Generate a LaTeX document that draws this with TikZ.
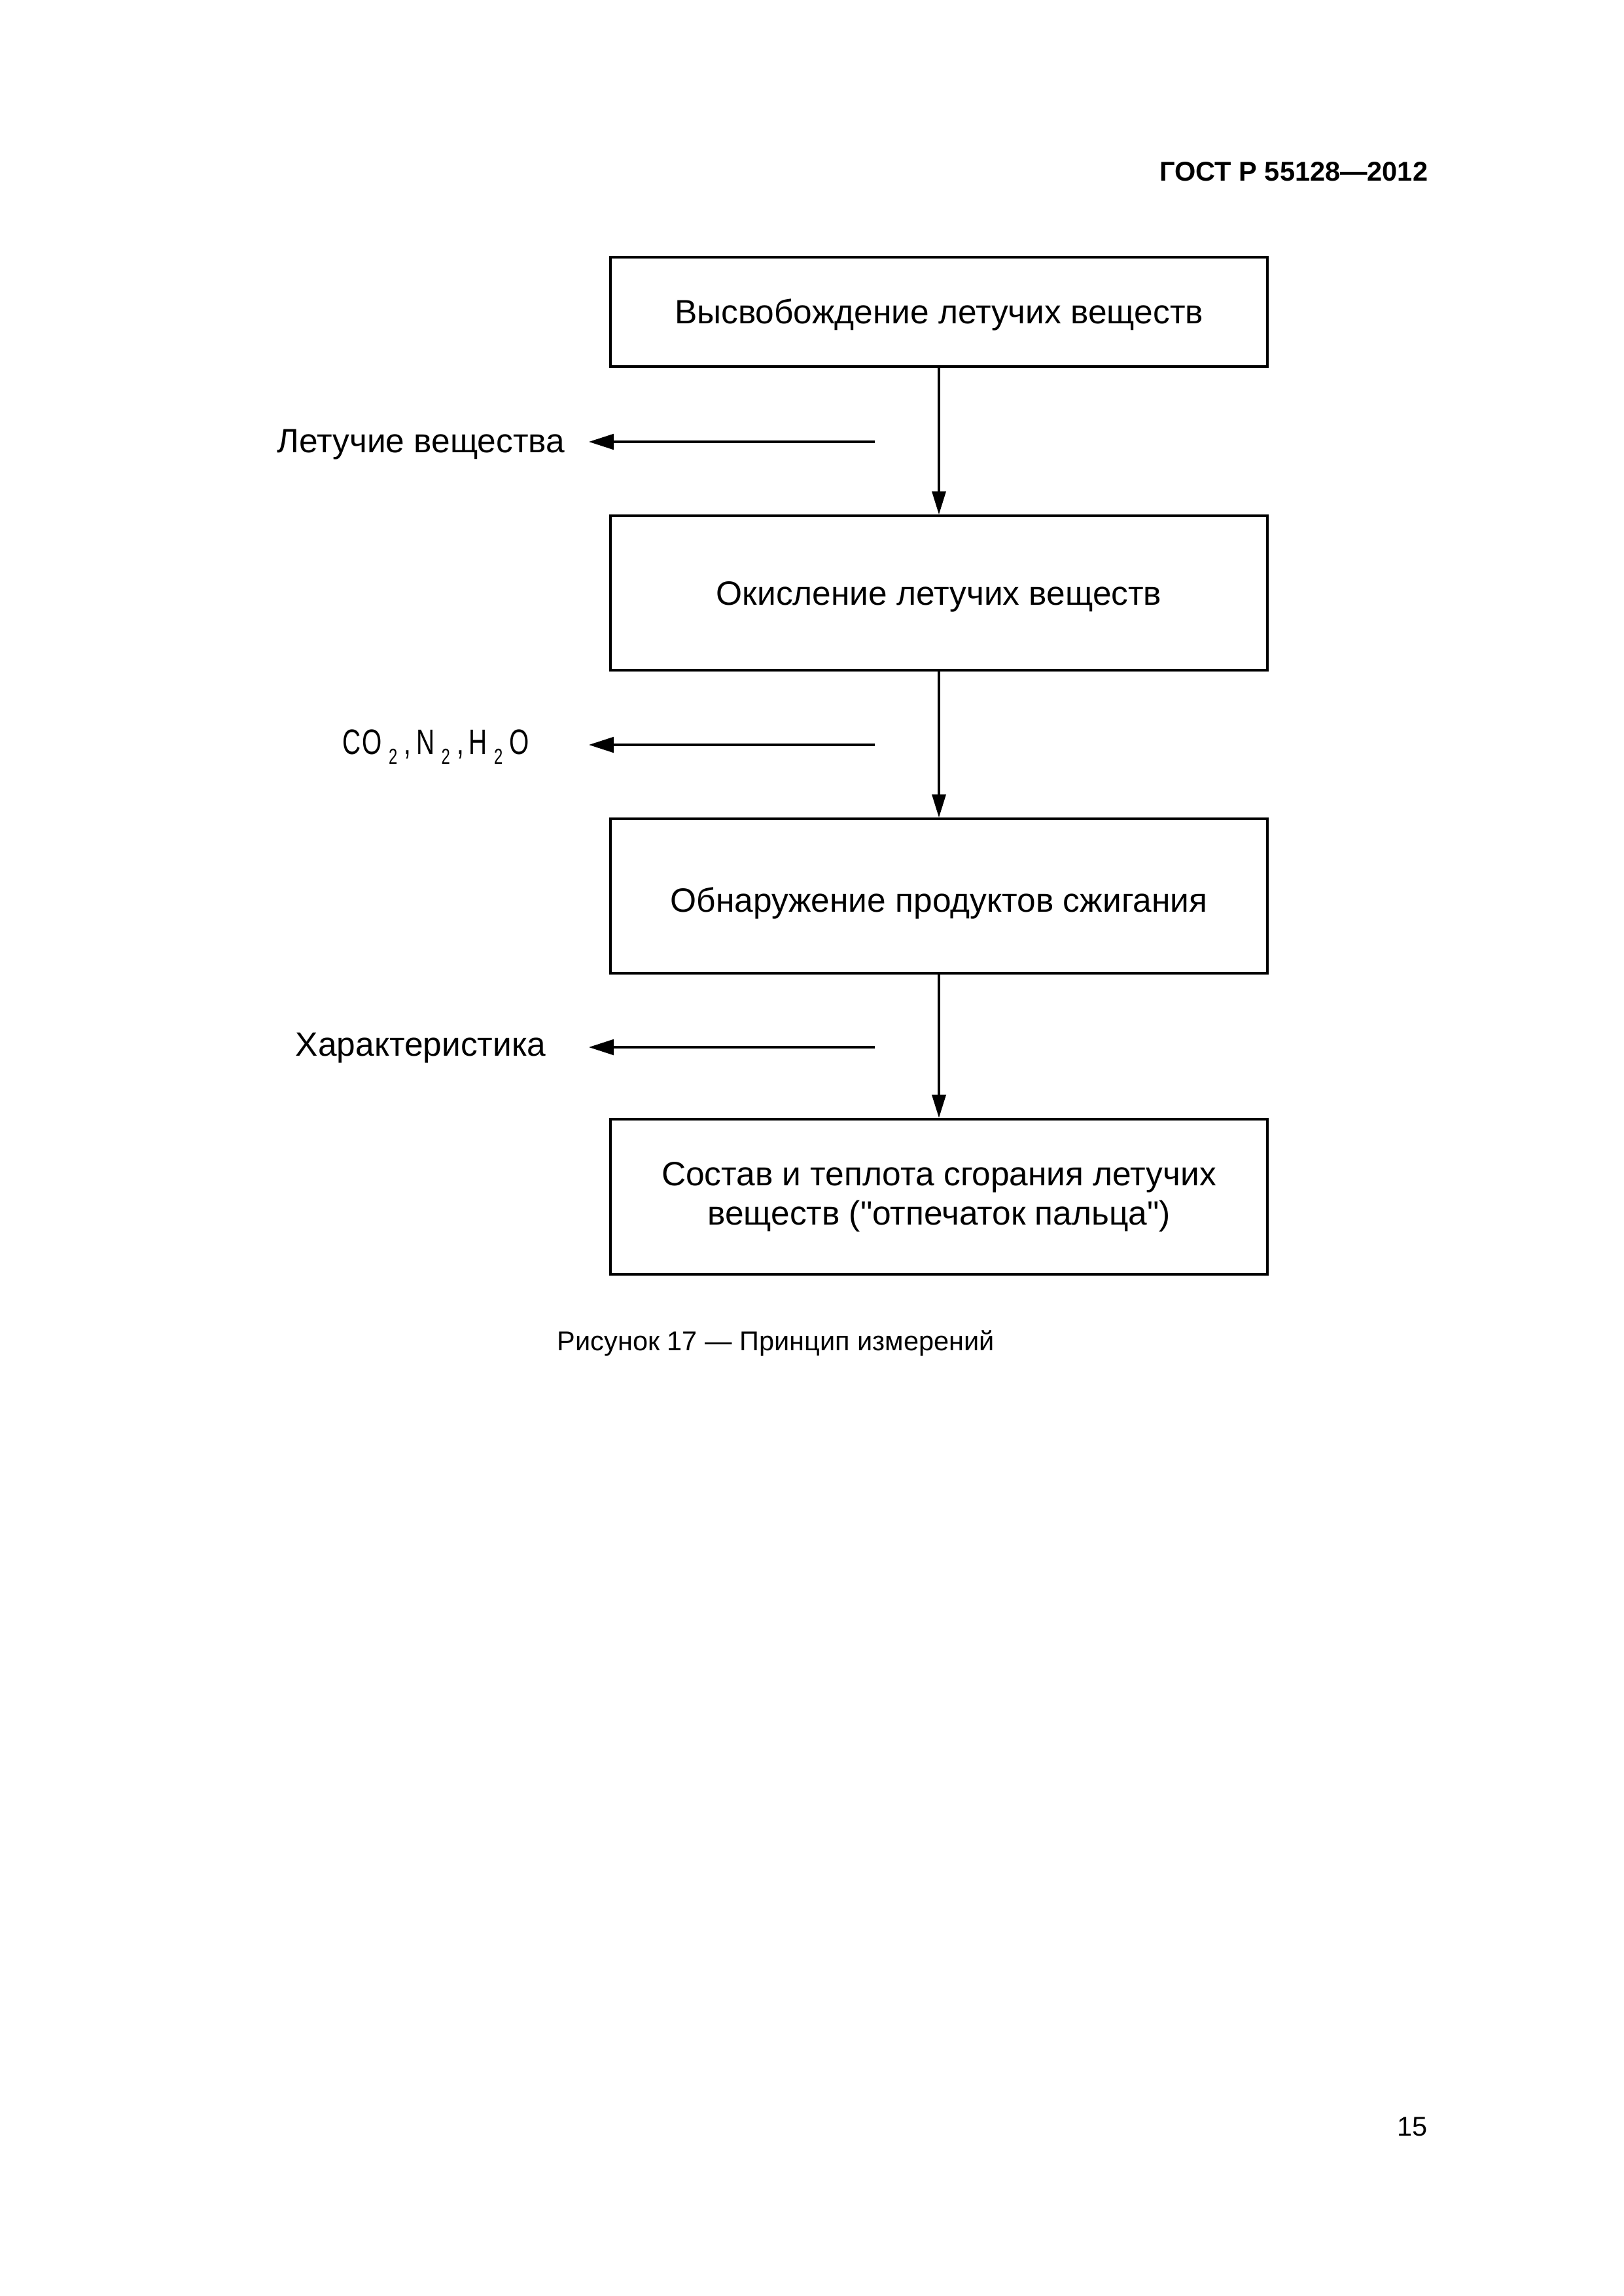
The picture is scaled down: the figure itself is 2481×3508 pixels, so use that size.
\documentclass[tikz,border=0pt]{standalone}
\usepackage{fontspec}
\usepackage{graphicx}
\setmainfont{Liberation Sans}
\newfontfamily\plainfont{Liberation Sans}
\usetikzlibrary{arrows.meta}
\newcommand\lowtwo{\raisebox{-3.8pt}{\fontsize{8}{8}\selectfont 2}}
\newcommand\sq{{\plainfont\symbol{"22}}}
\begin{document}
\begin{tikzpicture}[x=0.0084667cm,y=-0.0084667cm,
  box/.style={draw, line width=1pt, minimum width=85mm, inner sep=0pt, align=center,
    font=\fontsize{12.4}{14.4}\selectfont},
  one/.style={text height=8.9pt, text depth=0pt},
  lbl/.style={inner sep=0pt, font=\fontsize{12.4}{14.4}\selectfont},
  flow/.style={line width=0.75pt, -{Triangle[length=3mm,width=1.8mm]}},
  side/.style={line width=0.75pt, -{Triangle[length=3.2mm,width=2mm]}}]
\fill[white] (0,0) rectangle (2481,3508);
\useasboundingbox (0,0) rectangle (2481,3508);
% header and page number
\node[inner sep=0pt, anchor=base east, font=\fontsize{10}{12}\selectfont\bfseries] (hdr) at (2183,276) {ГОСТ Р 55128—2012};
\node[inner sep=0pt, anchor=base east, font=\fontsize{10}{12}\selectfont] (pg) at (2182,3263) {15};
% boxes
\node[box, one, minimum height=14.14mm] (b1) at (1435,476.5) {Высвобождение летучих веществ};
\node[box, one, minimum height=19.98mm] (b2) at (1435,906) {Окисление летучих веществ};
\node[box, one, text height=12pt, minimum height=19.98mm] (b3) at (1435,1369) {Обнаружение продуктов сжигания};
\node[box, minimum height=20.07mm] (b4) at (1435,1828.5) {Состав и теплота сгорания летучих\\веществ (\sq отпечаток пальца\sq)};
% flow arrows
\draw[flow] (b1.south) -- (b2.north);
\draw[flow] (b2.south) -- (b3.north);
\draw[flow] (b3.south) -- (b4.north);
% side outputs
\coordinate (s1) at (1337,675);
\coordinate (t1) at (900,675);
\draw[side] (s1) -- (t1);
\node[lbl, anchor=base east] (l1) at (864,691) {Летучие вещества};
\coordinate (s2) at (1337,1138);
\coordinate (t2) at (900,1138);
\draw[side] (s2) -- (t2);
\node[inner sep=0pt, anchor=base west, font=\fontsize{13}{13}\selectfont] (l2) at (523,1152)
  {\scalebox{0.72}[1]{C\kern0.5pt O\kern3.5pt\lowtwo\kern3.5pt,\kern2.5pt N\kern3.5pt\lowtwo\kern3.5pt,\kern2.5pt H\kern3.5pt\lowtwo\kern3.5pt O}};
\coordinate (s3) at (1337,1600);
\coordinate (t3) at (900,1600);
\draw[side] (s3) -- (t3);
\node[lbl, anchor=base west] (l3) at (451,1613) {Характеристика};
% caption
\node[inner sep=0pt, anchor=base west, font=\fontsize{10}{12}\selectfont] (cap) at (851,2063) {Рисунок 17 — Принцип измерений};
\end{tikzpicture}
\end{document}
